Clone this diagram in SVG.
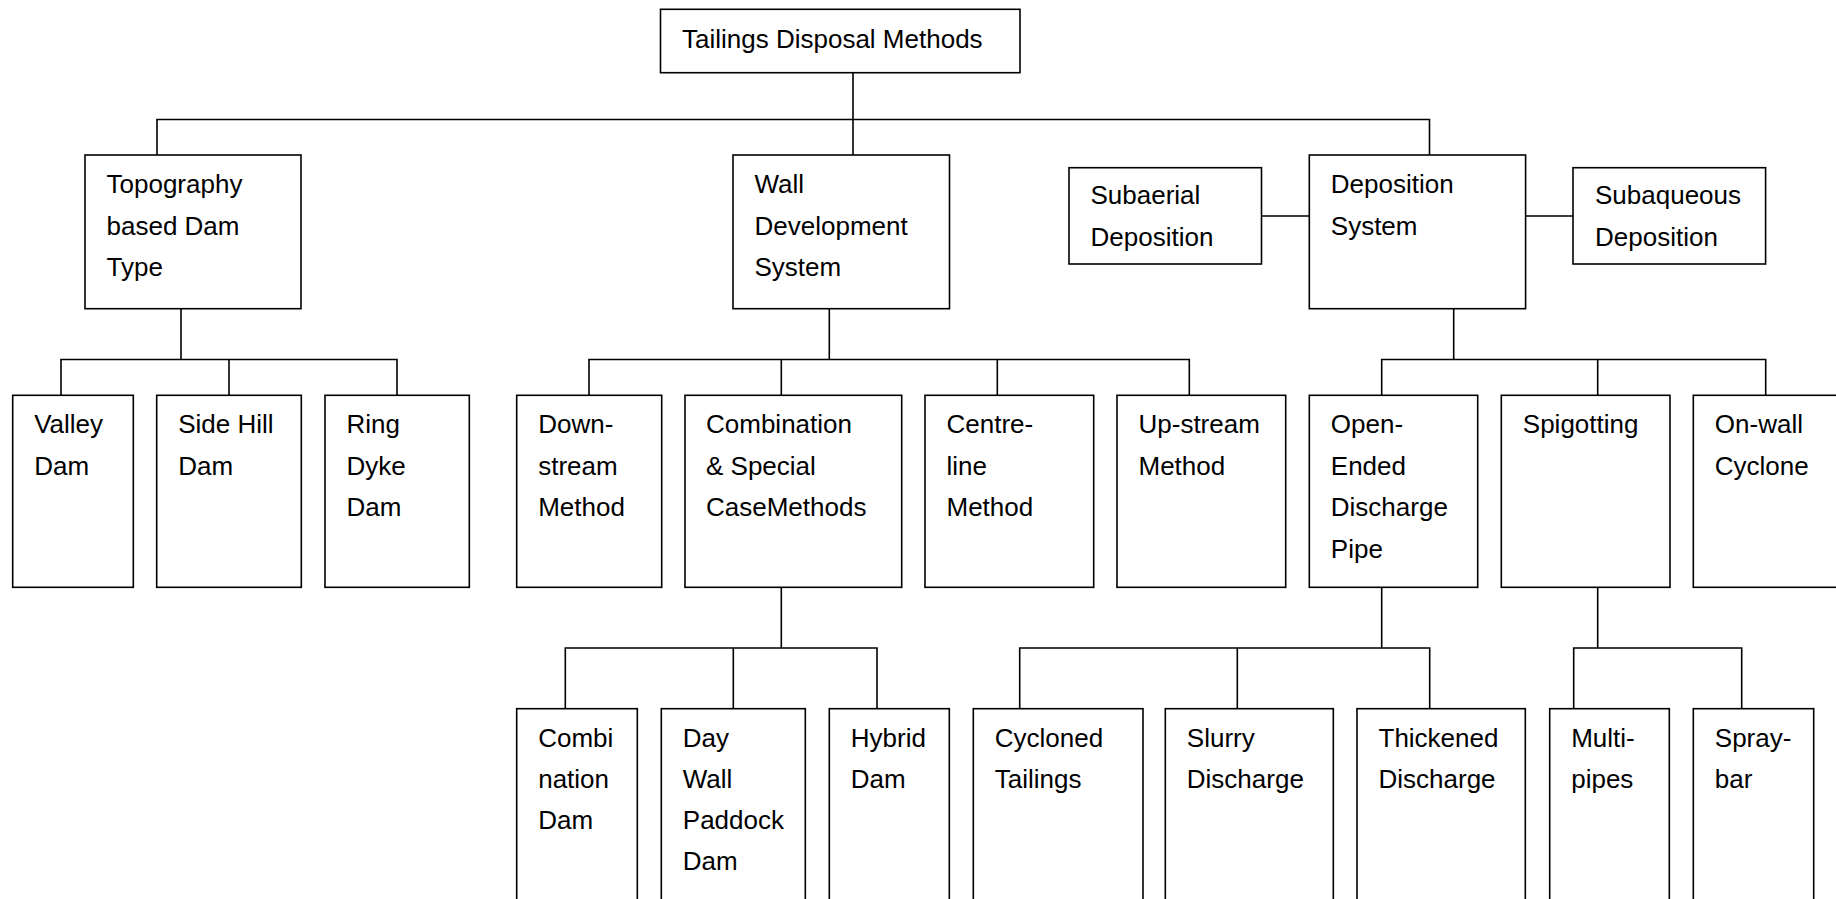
<svg xmlns="http://www.w3.org/2000/svg" width="1836" height="899" viewBox="0 0 1836 899">
  <style>
    .box { fill: #ffffff; stroke: #000000; stroke-width: 1.6; }
    .wire { fill: none; stroke: #000000; stroke-width: 1.6; }
    .lbl { font-family: "Liberation Sans", Arial, sans-serif; font-size: 26px; fill: #000000; }
  </style>
  <rect x="0" y="0" width="1836" height="899" fill="#ffffff"/>

  <!-- connectors -->
  <g id="connectors" class="wire">
    <!-- root to first level -->
    <path d="M853 72.7 V155 M157 155 V119.5 H1429.5 V155"/>
    <!-- side links of the deposition system -->
    <path d="M1261.5 216 H1309.3 M1525.6 216 H1573"/>
    <!-- topography branch -->
    <path d="M181 308.7 V359.5 M61 395.3 V359.5 H397 V395.3 M229 359.5 V395.3"/>
    <!-- wall development branch -->
    <path d="M829.3 308.7 V359.5 M589 395.3 V359.5 H1189.3 V395.3 M781.3 359.5 V395.3 M997.3 359.5 V395.3"/>
    <!-- deposition branch -->
    <path d="M1453.7 308.7 V359.5 M1381.7 395.3 V359.5 H1765.7 V395.3 M1597.7 359.5 V395.3"/>
    <!-- combination branch -->
    <path d="M781.3 587.3 V648 M565.3 708.7 V648 H877 V708.7 M733.3 648 V708.7"/>
    <!-- open-ended branch -->
    <path d="M1381.7 587.3 V648 M1019.7 708.7 V648 H1429.7 V708.7 M1237.3 648 V708.7"/>
    <!-- spigotting branch -->
    <path d="M1597.7 587.3 V648 M1573.7 708.7 V648 H1741.7 V708.7"/>
  </g>

  <!-- root -->
  <g id="root">
    <rect class="box" x="660.5" y="9.3" width="359.5" height="63.4"/>
    <text class="lbl" x="682" y="47.7">Tailings Disposal Methods</text>
  </g>

  <!-- first level -->
  <g id="topography">
    <rect class="box" x="85" y="155" width="216" height="153.7"/>
    <text class="lbl" x="106.5" y="193"><tspan x="106.5">Topography</tspan><tspan x="106.5" dy="41.5">based Dam</tspan><tspan x="106.5" dy="41.5">Type</tspan></text>
  </g>
  <g id="wall">
    <rect class="box" x="733" y="155" width="216.5" height="153.7"/>
    <text class="lbl" x="754.5" y="193"><tspan x="754.5">Wall</tspan><tspan x="754.5" dy="41.5">Development</tspan><tspan x="754.5" dy="41.5">System</tspan></text>
  </g>
  <g id="deposition">
    <rect class="box" x="1309.3" y="155" width="216.3" height="153.7"/>
    <text class="lbl" x="1330.8" y="193"><tspan x="1330.8">Deposition</tspan><tspan x="1330.8" dy="41.5">System</tspan></text>
  </g>
  <g id="subaerial">
    <rect class="box" x="1069" y="167.7" width="192.5" height="96.3"/>
    <text class="lbl" x="1090.5" y="204"><tspan x="1090.5">Subaerial</tspan><tspan x="1090.5" dy="41.5">Deposition</tspan></text>
  </g>
  <g id="subaqueous">
    <rect class="box" x="1573" y="167.7" width="192.6" height="96.3"/>
    <text class="lbl" x="1595" y="204"><tspan x="1595">Subaqueous</tspan><tspan x="1595" dy="41.5">Deposition</tspan></text>
  </g>

  <!-- second level -->
  <g id="valley">
    <rect class="box" x="12.7" y="395.3" width="120.6" height="192"/>
    <text class="lbl" x="34.2" y="433.3"><tspan x="34.2">Valley</tspan><tspan x="34.2" dy="41.5">Dam</tspan></text>
  </g>
  <g id="sidehill">
    <rect class="box" x="156.7" y="395.3" width="144.6" height="192"/>
    <text class="lbl" x="178.2" y="433.3"><tspan x="178.2">Side Hill</tspan><tspan x="178.2" dy="41.5">Dam</tspan></text>
  </g>
  <g id="ringdyke">
    <rect class="box" x="325" y="395.3" width="144.3" height="192"/>
    <text class="lbl" x="346.5" y="433.3"><tspan x="346.5">Ring</tspan><tspan x="346.5" dy="41.5">Dyke</tspan><tspan x="346.5" dy="41.5">Dam</tspan></text>
  </g>
  <g id="downstream">
    <rect class="box" x="516.7" y="395.3" width="145" height="192"/>
    <text class="lbl" x="538.2" y="433.3"><tspan x="538.2">Down-</tspan><tspan x="538.2" dy="41.5">stream</tspan><tspan x="538.2" dy="41.5">Method</tspan></text>
  </g>
  <g id="combination">
    <rect class="box" x="685" y="395.3" width="216.7" height="192"/>
    <text class="lbl" x="706" y="433.3"><tspan x="706">Combination</tspan><tspan x="706" dy="41.5">&amp; Special</tspan><tspan x="706" dy="41.5">CaseMethods</tspan></text>
  </g>
  <g id="centreline">
    <rect class="box" x="925" y="395.3" width="168.7" height="192"/>
    <text class="lbl" x="946.5" y="433.3"><tspan x="946.5">Centre-</tspan><tspan x="946.5" dy="41.5">line</tspan><tspan x="946.5" dy="41.5">Method</tspan></text>
  </g>
  <g id="upstream">
    <rect class="box" x="1117" y="395.3" width="168.7" height="192"/>
    <text class="lbl" x="1138.5" y="433.3"><tspan x="1138.5">Up-stream</tspan><tspan x="1138.5" dy="41.5">Method</tspan></text>
  </g>
  <g id="openended">
    <rect class="box" x="1309.3" y="395.3" width="168.4" height="192"/>
    <text class="lbl" x="1330.8" y="433.3"><tspan x="1330.8">Open-</tspan><tspan x="1330.8" dy="41.5">Ended</tspan><tspan x="1330.8" dy="41.5">Discharge</tspan><tspan x="1330.8" dy="41.5">Pipe</tspan></text>
  </g>
  <g id="spigotting">
    <rect class="box" x="1501.3" y="395.3" width="168.7" height="192"/>
    <text class="lbl" x="1522.8" y="433.3">Spigotting</text>
  </g>
  <g id="onwall">
    <rect class="box" x="1693.3" y="395.3" width="150" height="192"/>
    <text class="lbl" x="1714.8" y="433.3"><tspan x="1714.8">On-wall</tspan><tspan x="1714.8" dy="41.5">Cyclone</tspan></text>
  </g>

  <!-- third level -->
  <g id="combidam">
    <rect class="box" x="516.7" y="708.7" width="120.6" height="200"/>
    <text class="lbl" x="538.2" y="746.7"><tspan x="538.2">Combi</tspan><tspan x="538.2" dy="41.2">nation</tspan><tspan x="538.2" dy="41.2">Dam</tspan></text>
  </g>
  <g id="daywall">
    <rect class="box" x="661.3" y="708.7" width="144" height="200"/>
    <text class="lbl" x="682.8" y="746.7"><tspan x="682.8">Day</tspan><tspan x="682.8" dy="41.2">Wall</tspan><tspan x="682.8" dy="41.2">Paddock</tspan><tspan x="682.8" dy="41.2">Dam</tspan></text>
  </g>
  <g id="hybrid">
    <rect class="box" x="829.3" y="708.7" width="120" height="200"/>
    <text class="lbl" x="850.8" y="746.7"><tspan x="850.8">Hybrid</tspan><tspan x="850.8" dy="41.2">Dam</tspan></text>
  </g>
  <g id="cycloned">
    <rect class="box" x="973.3" y="708.7" width="169.7" height="200"/>
    <text class="lbl" x="994.8" y="746.7"><tspan x="994.8">Cycloned</tspan><tspan x="994.8" dy="41.2">Tailings</tspan></text>
  </g>
  <g id="slurry">
    <rect class="box" x="1165.3" y="708.7" width="168" height="200"/>
    <text class="lbl" x="1186.8" y="746.7"><tspan x="1186.8">Slurry</tspan><tspan x="1186.8" dy="41.2">Discharge</tspan></text>
  </g>
  <g id="thickened">
    <rect class="box" x="1357" y="708.7" width="168.3" height="200"/>
    <text class="lbl" x="1378.5" y="746.7"><tspan x="1378.5">Thickened</tspan><tspan x="1378.5" dy="41.2">Discharge</tspan></text>
  </g>
  <g id="multipipes">
    <rect class="box" x="1549.7" y="708.7" width="119.6" height="200"/>
    <text class="lbl" x="1571.2" y="746.7"><tspan x="1571.2">Multi-</tspan><tspan x="1571.2" dy="41.2">pipes</tspan></text>
  </g>
  <g id="spraybar">
    <rect class="box" x="1693.3" y="708.7" width="120.4" height="200"/>
    <text class="lbl" x="1714.8" y="746.7"><tspan x="1714.8">Spray-</tspan><tspan x="1714.8" dy="41.2">bar</tspan></text>
  </g>
</svg>
